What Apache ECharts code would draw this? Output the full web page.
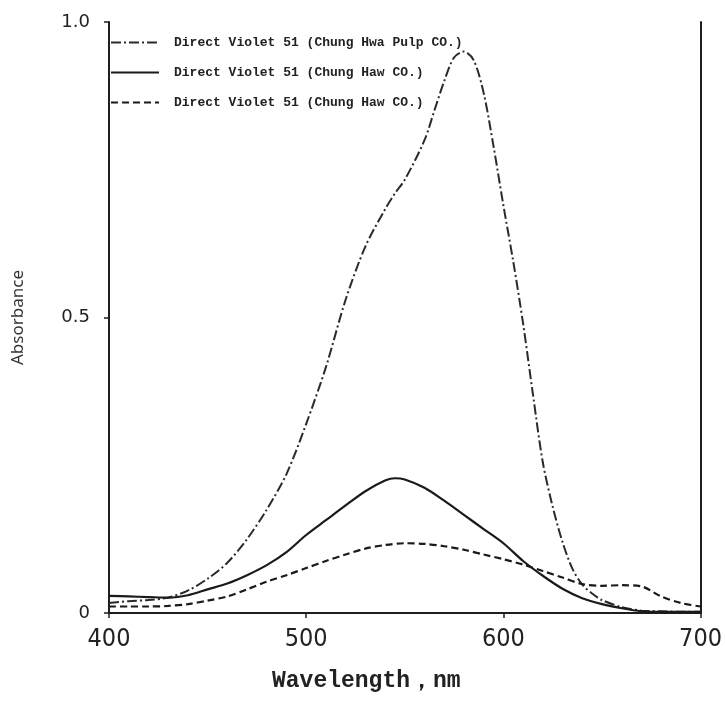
<!DOCTYPE html>
<html>
<head>
<meta charset="utf-8">
<script src="https://cdn.jsdelivr.net/npm/echarts@6/dist/echarts.min.js"></script>
<style>
html,body{margin:0;padding:0;background:#fff;}
#chart{width:725px;height:713px;}
</style>
</head>
<body>
<div id="chart"></div>
<script>
// Wavelength (nm)
const wavelengths = [400,410,420,430,440,450,460,470,480,490,500,510,520,530,540,545,550,560,565,570,575,580,585,590,595,600,605,610,615,620,625,630,635,640,645,650,660,670,680,690,700];

// Direct Violet 51 (Chung Hwa Pulp CO.) — dash-dot
const pulpValues = [0.017,0.02,0.022,0.026,0.038,0.058,0.085,0.125,0.175,0.235,0.32,0.416,0.53,0.62,0.683,0.71,0.733,0.80,0.85,0.90,0.94,0.95,0.935,0.88,0.79,0.69,0.595,0.49,0.37,0.255,0.18,0.12,0.075,0.048,0.033,0.022,0.01,0.004,0.003,0.002,0.002];

// Direct Violet 51 (Chung Haw CO.) — solid
const hawSolidX = [400,410,420,430,440,450,460,470,480,490,500,510,520,530,540,545,550,560,570,580,590,600,610,620,630,640,650,660,670,680,690,700];
const hawSolidValues = [0.029,0.028,0.027,0.026,0.03,0.04,0.05,0.064,0.081,0.103,0.132,0.157,0.182,0.206,0.224,0.228,0.226,0.212,0.19,0.166,0.142,0.118,0.088,0.063,0.041,0.025,0.015,0.008,0.003,0.002,0.002,0.002];

// Direct Violet 51 (Chung Haw CO.) — dashed
const hawDashX = [400,410,420,430,440,450,460,470,480,490,500,510,520,530,540,550,560,570,580,590,600,610,620,630,640,650,660,670,680,690,700];
const hawDashValues = [0.011,0.011,0.011,0.012,0.015,0.021,0.028,0.04,0.053,0.064,0.076,0.088,0.099,0.109,0.115,0.118,0.117,0.113,0.107,0.099,0.091,0.082,0.071,0.06,0.049,0.046,0.047,0.045,0.028,0.017,0.011];

const seriesNames = [
  'Direct Violet 51 (Chung Hwa Pulp CO.)',
  'Direct Violet 51 (Chung Haw CO.)',
  'Direct Violet 51 (Chung Haw CO.)\u200b'
];
const yTickValues = [0, 0.5, 1.0];
const yTickLabels = ['0', '0.5', '1.0'];
const xTickLabels = ['400', '500', '600', '700'];

function pairs(xs, ys){ return xs.map((x,i)=>[x, ys[i]]); }

const ink = '#1e1e1e';
const chart = echarts.init(document.getElementById('chart'), null, {renderer:'canvas'});
chart.setOption({
  backgroundColor: '#ffffff',
  animation: false,
  color: [ink, ink, ink],
  grid: {left: 109, right: 19, top: 22, bottom: 100, show: false},
  legend: {
    orient: 'vertical',
    left: 110, top: 36, padding: 0,
    itemWidth: 48, itemHeight: 10,
    itemGap: 17,
    data: seriesNames,
    itemStyle: {color: 'rgba(0,0,0,0)', borderColor: 'rgba(0,0,0,0)', borderWidth: 0},
    formatter: n => n.replace('\u200b',''),
    textStyle: {fontFamily: 'Liberation Mono', fontWeight: 'bold', fontSize: 13, color: '#222', padding: [0,0,0,10]}
  },
  xAxis: [{
    type: 'value', min: 400, max: 700, interval: 100,
    axisLine: {show: true, lineStyle: {color: ink, width: 2}},
    axisTick: {show: true, length: 5, lineStyle: {color: ink, width: 1.5}},
    splitLine: {show: false},
    axisLabel: {
      margin: 14, color: '#222', fontSize: 25,
      fontFamily: '"DejaVu Sans Condensed", sans-serif',
      formatter: v => xTickLabels[Math.round((v-400)/100)]
    }
  },{
    type: 'value', min: 400, max: 700, position: 'top',
    axisLine: {show: true, lineStyle: {color: ink, width: 2}},
    axisTick: {show: false}, axisLabel: {show: false}, splitLine: {show: false}
  }],
  yAxis: [{
    type: 'value', min: 0, max: 1, interval: 0.5,
    name: 'Absorbance', nameLocation: 'middle', nameGap: 82, nameRotate: 90,
    nameTextStyle: {fontFamily: '"Noto Sans", sans-serif', fontSize: 17, color: '#333'},
    axisLine: {show: true, lineStyle: {color: ink, width: 2}},
    axisTick: {show: true, length: 5, lineStyle: {color: ink, width: 1.5}},
    splitLine: {show: false},
    axisLabel: {
      margin: 19, color: '#222', fontSize: 18,
      fontFamily: '"DejaVu Sans", sans-serif',
      formatter: v => { const i = yTickValues.findIndex(t => Math.abs(t-v) < 1e-6); return i >= 0 ? yTickLabels[i] : ''; }
    }
  },{
    type: 'value', min: 0, max: 1, position: 'right',
    axisLine: {show: true, lineStyle: {color: ink, width: 2}},
    axisTick: {show: false}, axisLabel: {show: false}, splitLine: {show: false}
  }],
  graphic: [{
    type: 'text', left: 272, top: 670,
    style: {text: 'Wavelength，nm', fontFamily: 'Liberation Mono', fontWeight: 'bold', fontSize: 23, fill: '#222'}
  }],
  series: [{
    name: seriesNames[0], type: 'line', smooth: 0.3, symbol: 'none',
    data: pairs(wavelengths, pulpValues),
    itemStyle: {color: ink},
    lineStyle: {color: '#2a2a2a', width: 2, type: [10,3,2,3]}
  },{
    name: seriesNames[1], type: 'line', smooth: 0.3, symbol: 'none',
    data: pairs(hawSolidX, hawSolidValues),
    itemStyle: {color: ink},
    lineStyle: {color: '#1a1a1a', width: 2.2, type: 'solid'}
  },{
    name: seriesNames[2], type: 'line', smooth: 0.3, symbol: 'none',
    data: pairs(hawDashX, hawDashValues),
    itemStyle: {color: ink},
    lineStyle: {color: '#1a1a1a', width: 2.2, type: [7,4]}
  }]
});
</script>
</body>
</html>
